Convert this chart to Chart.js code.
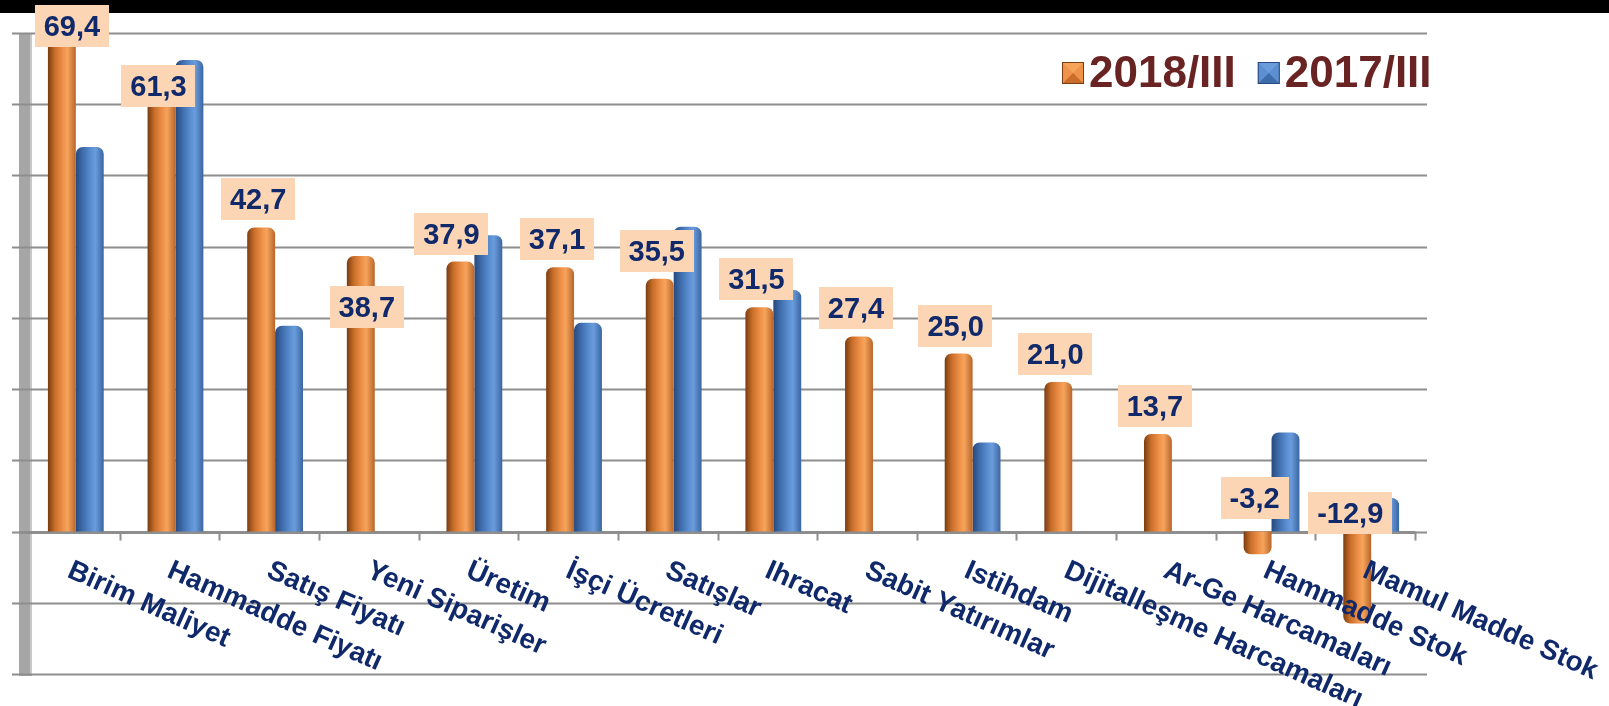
<!DOCTYPE html>
<html>
<head>
<meta charset="utf-8">
<script src="https://cdn.jsdelivr.net/npm/chart.js@4/dist/chart.umd.min.js"></script>
<style>
  html, body { margin: 0; padding: 0; background: #fff; }
  #wrap { width: 1609px; height: 706px; }
</style>
</head>
<body>
<div id="wrap"><canvas id="chart" width="1609" height="706"></canvas></div>
<script>
// chart data
var categories = ['Birim Maliyet', 'Hammadde Fiyatı', 'Satış Fiyatı', 'Yeni Siparişler', 'Üretim',
  'İşçi Ücretleri', 'Satışlar', 'Ihracat', 'Sabit Yatırımlar', 'Istihdam',
  'Dijitalleşme Harcamaları', 'Ar-Ge Harcamaları', 'Hammadde Stok', 'Mamul Madde Stok'];
var series2018 = [69.4, 61.3, 42.7, 38.7, 37.9, 37.1, 35.5, 31.5, 27.4, 25.0, 21.0, 13.7, -3.2, -12.9];
var series2017 = [54.0, 66.2, 28.9, null, 41.6, 29.3, 42.8, 33.9, null, 12.5, null, null, 13.9, 4.7];
var seriesNames = ['2018/III', '2017/III'];
var yTicks = [-20, -10, 0, 10, 20, 30, 40, 50, 60, 70];

var NAVY = '#10296b';
var ORANGE = [[0, '#7a3c10'], [0.25, '#c86e2a'], [0.55, '#f0924a'], [0.7, '#f5a45c'], [1, '#b9652a']];
var BLUE = [[0, '#27497d'], [0.25, '#3e6cab'], [0.55, '#5b8fd2'], [0.7, '#6a9cdc'], [1, '#3a66a2']];
var CAT_PCT = 0.56;
var DEPTH = 6; // fake 3D shift between front axis and back wall

function cylinderFill(c, stops) {
  var chart = c.chart, xs = chart.scales.x;
  if (!xs || c.type !== 'data') return stops[2][1];
  var catW = xs.width / categories.length;
  var barW = catW * CAT_PCT / 2;
  var left = xs.getPixelForValue(c.dataIndex) + (c.datasetIndex === 0 ? -barW : 0);
  if (!isFinite(left) || !isFinite(barW) || barW <= 0) return stops[2][1];
  var g = chart.ctx.createLinearGradient(left, 0, left + barW, 0);
  stops.forEach(function (s) { g.addColorStop(s[0], s[1]); });
  return g;
}

function fmt(v) { return v.toFixed(1).replace('.', ','); }

// background, wall and gridlines
var backdrop = {
  id: 'backdrop',
  beforeDraw: function (chart) {
    var ctx = chart.ctx;
    ctx.save();
    ctx.fillStyle = '#fff';
    ctx.fillRect(0, 0, chart.width, chart.height);
    ctx.fillStyle = '#000';
    ctx.fillRect(0, 0, chart.width, 13);
    ctx.restore();
  },
  beforeDatasetsDraw: function (chart) {
    var ctx = chart.ctx, area = chart.chartArea, ys = chart.scales.y, xs = chart.scales.x;
    var wallL = area.left - 7, wallR = area.left + DEPTH;
    ctx.save();
    ctx.fillStyle = '#a6a6a6';
    ctx.fillRect(wallL, area.top, wallR - wallL, area.bottom - area.top + 2);
    ctx.fillStyle = '#c8c8c8';
    ctx.fillRect(wallR - 2, area.top, 2, area.bottom - area.top);
    ctx.strokeStyle = '#8e8e8e';
    ctx.lineWidth = 2;
    yTicks.forEach(function (t) {
      var y = Math.round(ys.getPixelForValue(t)) + 0.5;
      ctx.beginPath();
      ctx.moveTo(wallL - 7, y);
      ctx.lineTo(area.right + DEPTH, y);
      ctx.stroke();
    });
    // floor line at zero with front category ticks
    var y0 = ys.getPixelForValue(0);
    ctx.lineWidth = 3;
    ctx.beginPath();
    ctx.moveTo(wallL, y0 + 1);
    ctx.lineTo(area.right - DEPTH, y0 + 1);
    ctx.stroke();
    ctx.lineWidth = 2;
    var catW = xs.width / categories.length;
    for (var i = 1; i <= categories.length; i++) {
      var x = Math.round(area.left + i * catW - DEPTH) + 0.5;
      ctx.beginPath();
      ctx.moveTo(x, y0);
      ctx.lineTo(x, y0 + 9);
      ctx.stroke();
    }
    ctx.restore();
  }
};

function bevelSquare(ctx, x, y, s, stops) {
  ctx.fillStyle = stops[2][1];
  ctx.fillRect(x, y, s, s);
  var m = s / 2;
  // lighter top facet, darker bottom facet
  ctx.fillStyle = stops[3][1];
  ctx.beginPath(); ctx.moveTo(x, y); ctx.lineTo(x + s, y); ctx.lineTo(x + m, y + m); ctx.closePath(); ctx.fill();
  ctx.fillStyle = stops[1][1];
  ctx.beginPath(); ctx.moveTo(x, y + s); ctx.lineTo(x + s, y + s); ctx.lineTo(x + m, y + m); ctx.closePath(); ctx.fill();
  ctx.strokeStyle = stops[0][1];
  ctx.lineWidth = 1;
  ctx.strokeRect(x + 0.5, y + 0.5, s - 1, s - 1);
}

// value boxes, slanted category labels, legend
var overlay = {
  id: 'overlay',
  afterDatasetsDraw: function (chart, args, opts) {
    var ctx = chart.ctx, ys = chart.scales.y, xs = chart.scales.x;
    var meta = chart.getDatasetMeta(0);
    var y0 = ys.getPixelForValue(0);
    ctx.save();
    ctx.font = 'bold 29px "Liberation Sans", Arial, sans-serif';
    ctx.textAlign = 'center';
    ctx.textBaseline = 'middle';
    meta.data.forEach(function (bar, i) {
      var v = series2018[i];
      var txt = fmt(v);
      var nudge = opts.nudge[i] || [0, 0];
      var w = ctx.measureText(txt).width + 18, h = 42;
      var top = v >= 0 ? bar.y : y0;
      var cx = bar.x - 3 + nudge[0];
      var bottom = top - 7 + nudge[1];
      ctx.fillStyle = '#fcd5b4';
      ctx.fillRect(Math.round(cx - w / 2), Math.round(bottom - h), Math.round(w), h);
      ctx.fillStyle = NAVY;
      ctx.fillText(txt, cx, bottom - h / 2 + 2);
    });

    ctx.font = 'bold 28px "Liberation Sans", Arial, sans-serif';
    ctx.textAlign = 'left';
    ctx.textBaseline = 'top';
    ctx.fillStyle = NAVY;
    categories.forEach(function (name, i) {
      ctx.save();
      ctx.translate(xs.getPixelForValue(i) - 1, y0 + 25);
      ctx.rotate(24 * Math.PI / 180);
      ctx.fillText(name, 0, 0);
      ctx.restore();
    });

    // legend
    ctx.font = 'bold 44px "Liberation Sans", Arial, sans-serif';
    ctx.textBaseline = 'middle';
    var lx = opts.legendX, ly = opts.legendY;
    [ORANGE, BLUE].forEach(function (stops, k) {
      bevelSquare(ctx, lx, ly - 11, 22, stops);
      ctx.fillStyle = '#692323';
      ctx.fillText(seriesNames[k], lx + 27, ly + 2);
      lx += 27 + ctx.measureText(seriesNames[k]).width + 22;
    });
    ctx.restore();
  }
};

new Chart(document.getElementById('chart'), {
  type: 'bar',
  data: {
    labels: categories,
    datasets: [
      { label: seriesNames[0], data: series2018,
        backgroundColor: function (c) { return cylinderFill(c, ORANGE); } },
      { label: seriesNames[1], data: series2017,
        backgroundColor: function (c) { return cylinderFill(c, BLUE); } }
    ]
  },
  options: {
    responsive: false,
    animation: false,
    layout: { padding: { left: 26, right: 188, top: 33, bottom: 32 } },
    datasets: { bar: { categoryPercentage: CAT_PCT, barPercentage: 1, borderRadius: 7, borderSkipped: 'start' } },
    scales: {
      x: { display: false },
      y: { display: false, min: -20, max: 70 }
    },
    plugins: {
      legend: { display: false },
      tooltip: { enabled: false },
      overlay: {
        legendX: 1062, legendY: 73,
        nudge: { 0: [13, 17], 1: [0, 19], 3: [9, 79], 4: [-6, 0], 12: [0, -6], 13: [-4, 9] }
      }
    }
  },
  plugins: [backdrop, overlay]
});
</script>
</body>
</html>
